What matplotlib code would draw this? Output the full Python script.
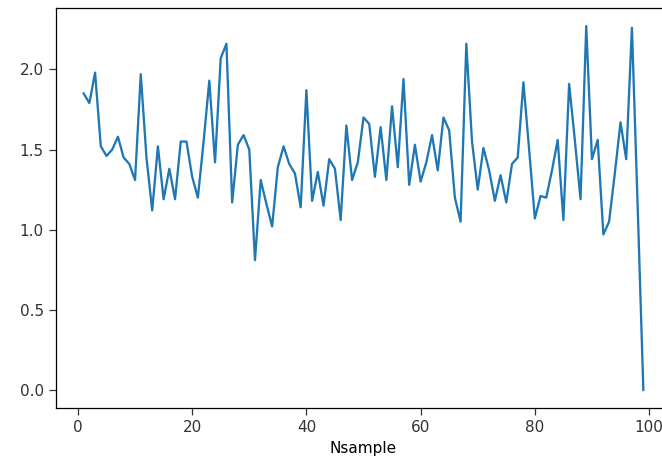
import numpy as np
import matplotlib
matplotlib.use("Agg")
import matplotlib.pyplot as plt

# values, sample index 1..99
nsample = np.arange(1, 100)
values = [
    1.85, 1.79, 1.98, 1.52, 1.46, 1.50, 1.58, 1.45, 1.41, 1.31,
    1.97, 1.45, 1.12, 1.52, 1.19, 1.38, 1.19, 1.55, 1.55, 1.33,
    1.20, 1.55, 1.93, 1.42, 2.07, 2.16, 1.17, 1.53, 1.59, 1.50,
    0.81, 1.31, 1.16, 1.02, 1.39, 1.52, 1.41, 1.35, 1.14, 1.87,
    1.18, 1.36, 1.15, 1.44, 1.38, 1.06, 1.65, 1.31, 1.42, 1.70,
    1.66, 1.33, 1.64, 1.31, 1.77, 1.39, 1.94, 1.28, 1.53, 1.30,
    1.42, 1.59, 1.37, 1.70, 1.62, 1.20, 1.05, 2.16, 1.55, 1.25,
    1.51, 1.37, 1.18, 1.34, 1.17, 1.41, 1.45, 1.92, 1.50, 1.07,
    1.21, 1.20, 1.37, 1.56, 1.06, 1.91, 1.56, 1.19, 2.27, 1.44,
    1.56, 0.97, 1.05, 1.35, 1.67, 1.44, 2.26, 1.15, 0.00,
]

fig = plt.figure(figsize=(6.62, 4.67), dpi=100)
# the reference is cropped on the right, so the axes run past the figure edge
ax = fig.add_axes([0.0841, 0.126, 0.930, 0.857])

ax.plot(nsample, values, color='#1f77b4', linewidth=1.65)

ax.set_xticks([0, 20, 40, 60, 80, 100])
ax.set_yticks([0.0, 0.5, 1.0, 1.5, 2.0])
ax.tick_params(labelsize=11, length=5, width=0.9, colors='#333333')
for spine in ax.spines.values():
    spine.set_linewidth(0.9)
ax.set_xlabel('Nsample', fontsize=11, labelpad=4)

fig.savefig('out.png', dpi=100)
